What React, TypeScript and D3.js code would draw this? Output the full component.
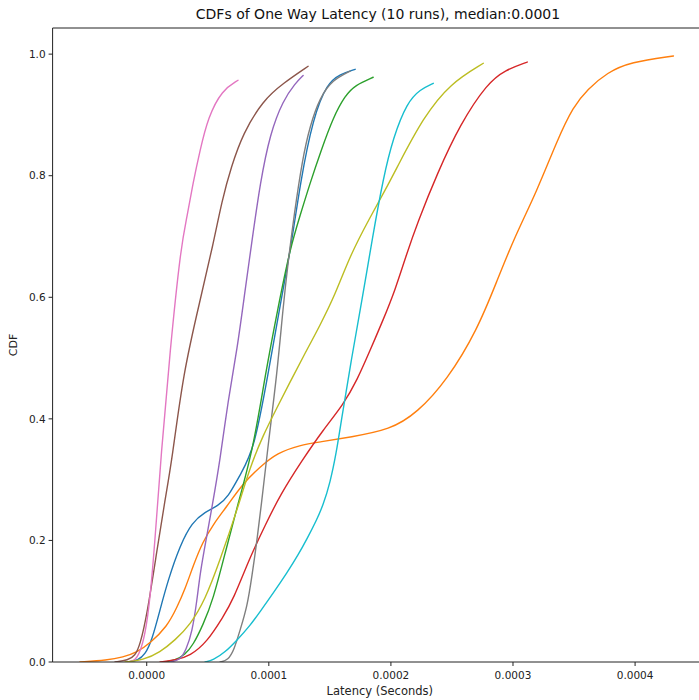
import React from "react";
import * as d3 from "d3";

// One-way latency CDFs for 10 runs (latency in microseconds, cumulative fraction)
const run0Us = [-15.3, -7.1, -1.4, 4.3, 10.9, 17.5, 27.3, 37.1, 47.8, 58.4, 66.6, 76.5, 88.0, 99.5, 109.3, 119.1, 125.7, 136.3, 147.8, 158.4, 170.7];
const run0Cdf = [0, 0.003, 0.012, 0.036, 0.086, 0.135, 0.192, 0.23, 0.247, 0.257, 0.271, 0.308, 0.349, 0.475, 0.587, 0.694, 0.788, 0.896, 0.952, 0.967, 0.975];

const run1Us = [-54.7, -32.5, -19.4, -8.0, 2.7, 16.6, 24.8, 31.4, 38.0, 45.7, 55.0, 65.3, 78.9, 92.9, 106.8, 125.7, 142.0, 166.6, 199.4, 221.6, 246.1, 270.7, 287.1, 300.2, 319.9, 336.3, 349.4, 360.9, 377.3, 396.1, 431.4];
const run1Cdf = [0, 0.003, 0.008, 0.016, 0.031, 0.058, 0.09, 0.12, 0.158, 0.197, 0.228, 0.255, 0.294, 0.321, 0.344, 0.357, 0.362, 0.37, 0.382, 0.41, 0.464, 0.546, 0.628, 0.694, 0.776, 0.859, 0.914, 0.942, 0.97, 0.987, 0.997];

const run2Us = [15.0, 23.2, 31.4, 38.0, 46.1, 54.3, 64.2, 74.0, 87.1, 97.0, 107.6, 117.5, 125.7, 133.8, 142.9, 152.7, 162.5, 170.7, 185.5];
const run2Cdf = [0, 0.003, 0.012, 0.028, 0.061, 0.102, 0.179, 0.255, 0.349, 0.472, 0.584, 0.681, 0.735, 0.788, 0.842, 0.896, 0.932, 0.949, 0.962];

const run3Us = [10.9, 23.2, 35.5, 49.4, 62.5, 70.7, 84.7, 97.0, 109.3, 127.3, 144.5, 160.9, 172.4, 183.0, 193.7, 203.5, 212.5, 221.6, 238.0, 256.8, 278.9, 293.7, 311.7];
const run3Cdf = [0, 0.003, 0.01, 0.033, 0.074, 0.102, 0.173, 0.225, 0.275, 0.332, 0.382, 0.423, 0.464, 0.513, 0.563, 0.612, 0.669, 0.722, 0.804, 0.885, 0.952, 0.974, 0.987];

const run4Us = [19.1, 27.3, 32.2, 37.1, 41.2, 43.7, 48.6, 53.5, 60.1, 66.6, 74.0, 80.6, 86.3, 92.9, 101.1, 111.7, 121.6, 128.1];
const run4Cdf = [0, 0.003, 0.02, 0.048, 0.102, 0.146, 0.201, 0.255, 0.332, 0.431, 0.513, 0.612, 0.694, 0.788, 0.87, 0.924, 0.952, 0.965];

const run5Us = [-26.0, -15.3, -9.6, -5.5, 0.2, 8.4, 14.9, 20.7, 29.8, 43.7, 54.3, 61.7, 69.1, 78.9, 95.3, 111.7, 132.2];
const run5Cdf = [0, 0.003, 0.01, 0.028, 0.077, 0.184, 0.266, 0.332, 0.475, 0.595, 0.686, 0.76, 0.814, 0.87, 0.924, 0.952, 0.98];

const run6Us = [-15.3, -9.6, -5.5, -1.4, 2.7, 6.8, 11.7, 19.1, 28.1, 33.0, 37.9, 43.7, 50.2, 61.7, 74.8];
const run6Cdf = [0, 0.002, 0.016, 0.044, 0.102, 0.201, 0.34, 0.513, 0.686, 0.732, 0.788, 0.842, 0.896, 0.941, 0.957];

const run7Us = [60.1, 66.6, 71.6, 76.5, 82.2, 86.3, 90.4, 95.3, 99.4, 106.8, 111.7, 115.8, 120.7, 127.3, 133.8, 142.0, 151.9, 166.6];
const run7Cdf = [0, 0.003, 0.02, 0.053, 0.09, 0.143, 0.201, 0.283, 0.357, 0.475, 0.584, 0.658, 0.735, 0.825, 0.883, 0.929, 0.957, 0.972];

const run8Us = [-17.8, -3.0, 10.9, 23.2, 35.5, 47.8, 60.1, 74.0, 84.7, 95.3, 106.8, 117.5, 128.1, 142.0, 154.3, 166.6, 183.0, 195.3, 205.1, 226.5, 248.6, 275.7];
const run8Cdf = [0, 0.003, 0.016, 0.036, 0.061, 0.102, 0.168, 0.25, 0.321, 0.373, 0.419, 0.461, 0.502, 0.554, 0.604, 0.669, 0.732, 0.776, 0.814, 0.896, 0.952, 0.985];

const run9Us = [47.8, 54.3, 64.2, 74.0, 84.7, 92.9, 103.5, 115.0, 124.0, 131.4, 138.8, 144.5, 150.2, 155.2, 159.3, 167.5, 176.5, 184.7, 193.7, 201.9, 213.4, 224.0, 234.7];
const run9Cdf = [0, 0.003, 0.016, 0.036, 0.06, 0.083, 0.113, 0.147, 0.176, 0.203, 0.232, 0.258, 0.295, 0.343, 0.396, 0.497, 0.597, 0.696, 0.796, 0.863, 0.921, 0.942, 0.952];

const runLatencies = [run0Us, run1Us, run2Us, run3Us, run4Us, run5Us, run6Us, run7Us, run8Us, run9Us];
const runCdfs = [run0Cdf, run1Cdf, run2Cdf, run3Cdf, run4Cdf, run5Cdf, run6Cdf, run7Cdf, run8Cdf, run9Cdf];

const runColors = ["#1f77b4", "#ff7f0e", "#2ca02c", "#d62728", "#9467bd", "#8c564b", "#e377c2", "#7f7f7f", "#bcbd22", "#17becf"];

const xTicks = [0, 0.0001, 0.0002, 0.0003, 0.0004];
const yTicks = [0, 0.2, 0.4, 0.6, 0.8, 1.0];

const titleText = "CDFs of One Way Latency (10 runs), median:0.0001";
const xLabel = "Latency (Seconds)";
const yLabel = "CDF";

const W = 699;
const H = 700;
const plot = { left: 52.6, right: 707, top: 28, bottom: 662 };
const font = "'DejaVu Sans', sans-serif";

export default function App() {
  const x = d3.scaleLinear().domain([-7.71e-5, 4.589e-4]).range([plot.left, plot.right]);
  const y = d3.scaleLinear().domain([0, 1.043]).range([plot.bottom, plot.top]);

  const line = d3
    .line<[number, number]>()
    .x((d) => x(d[0] * 1e-6))
    .y((d) => y(d[1]))
    .curve(d3.curveBasis);

  const fmtX = d3.format(".4f");
  const fmtY = d3.format(".1f");

  return (
    <svg
      width={W}
      height={H}
      style={{ position: "absolute", left: 0, top: 0, background: "#fff" }}
      fontFamily={font}
    >
      <defs>
        <clipPath id="plot-area">
          <rect x={plot.left} y={plot.top} width={plot.right - plot.left} height={plot.bottom - plot.top} />
        </clipPath>
      </defs>
      <rect x={0} y={0} width={W} height={H} fill="#fff" />

      <g clipPath="url(#plot-area)">
        {runLatencies.map((lat, i) => {
          const pts = lat.map((v, j) => [v, runCdfs[i][j]] as [number, number]);
          return (
            <path
              key={i}
              d={line(pts) ?? ""}
              fill="none"
              stroke={runColors[i]}
              strokeWidth={1.4}
              strokeLinejoin="round"
              strokeLinecap="round"
            />
          );
        })}
      </g>

      {/* spines */}
      <line x1={plot.left} x2={plot.left} y1={plot.top} y2={plot.bottom} stroke="#222" strokeWidth={1} />
      <line x1={plot.left} x2={W} y1={plot.bottom} y2={plot.bottom} stroke="#222" strokeWidth={1} />
      <line x1={plot.left} x2={W} y1={plot.top} y2={plot.top} stroke="#222" strokeWidth={1} />

      {/* x axis ticks */}
      {xTicks.map((t) => (
        <g key={t} transform={`translate(${x(t)},${plot.bottom})`}>
          <line y1={0} y2={4} stroke="#222" strokeWidth={1} />
          <text y={17} textAnchor="middle" fontSize={10.5} fill="#222">
            {fmtX(t)}
          </text>
        </g>
      ))}

      {/* y axis ticks */}
      {yTicks.map((t) => (
        <g key={t} transform={`translate(${plot.left},${y(t)})`}>
          <line x1={-4} x2={0} stroke="#222" strokeWidth={1} />
          <text x={-7} dy="0.35em" textAnchor="end" fontSize={10.5} fill="#222">
            {fmtY(t)}
          </text>
        </g>
      ))}

      <text x={378} y={19} textAnchor="middle" fontSize={14} fill="#111">
        {titleText}
      </text>
      <text x={(plot.left + plot.right) / 2} y={695} textAnchor="middle" fontSize={11.5} fill="#222">
        {xLabel}
      </text>
      <text
        transform={`translate(17,${(plot.top + plot.bottom) / 2}) rotate(-90)`}
        textAnchor="middle"
        fontSize={11}
        fill="#222"
      >
        {yLabel}
      </text>
    </svg>
  );
}
